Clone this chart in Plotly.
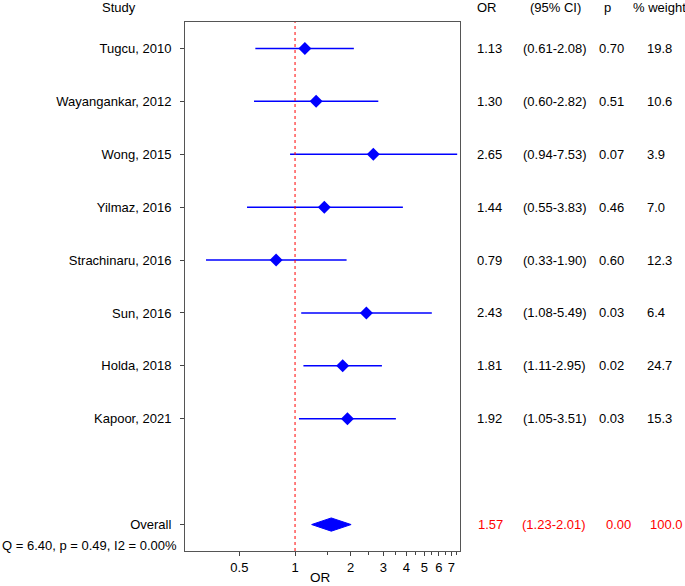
import plotly.graph_objects as go

studies = ["Tugcu, 2010", "Wayangankar, 2012", "Wong, 2015", "Yilmaz, 2016",
           "Strachinaru, 2016", "Sun, 2016", "Holda, 2018", "Kapoor, 2021"]
or_vals = [1.13, 1.30, 2.65, 1.44, 0.79, 2.43, 1.81, 1.92]
ci_low = [0.61, 0.60, 0.94, 0.55, 0.33, 1.08, 1.11, 1.05]
ci_high = [2.08, 2.82, 7.53, 3.83, 1.90, 5.49, 2.95, 3.51]
p_vals = ["0.70", "0.51", "0.07", "0.46", "0.60", "0.03", "0.02", "0.03"]
weights = ["19.8", "10.6", "3.9", "7.0", "12.3", "6.4", "24.7", "15.3"]

overall_or = 1.57
overall_low = 1.23
overall_high = 2.01
overall_p = "0.00"
overall_w = "100.0"
het_text = "Q = 6.40, p = 0.49, I2 = 0.00%"

tick_vals = [0.5, 1, 2, 3, 4, 5, 6, 7]
tick_text = ["0.5", "1", "2", "3", "4", "5", "6", "7"]
minor_vals = [1.5, 2.5, 3.5, 4.5, 5.5, 6.5, 7.5]

rows = list(range(1, len(studies) + 1))
overall_row = len(studies) + 2

FONT = "Liberation Sans, Arial, sans-serif"
FS = 13
BLUE = "#0000FF"
RED = "#FF0000"

fig = go.Figure()

# CI lines
for i, r in enumerate(rows):
    fig.add_trace(go.Scatter(x=[ci_low[i], ci_high[i]], y=[r, r], mode="lines",
                             line=dict(color=BLUE, width=1.5), showlegend=False,
                             hoverinfo="skip"))

# point estimates
fig.add_trace(go.Scatter(x=or_vals, y=rows, mode="markers",
                         marker=dict(symbol="diamond", size=10, color=BLUE),
                         showlegend=False))

# overall diamond
dh = 0.125
fig.add_trace(go.Scatter(x=[overall_low, overall_or, overall_high, overall_or, overall_low],
                         y=[overall_row, overall_row - dh, overall_row, overall_row + dh, overall_row],
                         mode="lines", fill="toself", fillcolor=BLUE,
                         line=dict(color=BLUE, width=1), showlegend=False))

# reference line at 1
fig.add_shape(type="line", x0=1, x1=1, y0=0, y1=1, xref="x", yref="paper",
              line=dict(color=RED, width=1, dash="dot"))

PL, PW = 185, 275  # plot-area left edge and width in page pixels

def px(xp):
    return (xp - PL) / float(PW)

ann = []
hdr_y = 1 + (22 - 8) / 529.0
ann.append(dict(x=px(100), y=hdr_y, text="Study", xanchor="left"))
ann.append(dict(x=px(475), y=hdr_y, text="OR", xanchor="left"))
ann.append(dict(x=px(528), y=hdr_y, text="(95% CI)", xanchor="left"))
ann.append(dict(x=px(607), y=hdr_y, text="p", xanchor="center"))
ann.append(dict(x=px(631), y=hdr_y, text="% weight", xanchor="left"))
for a in ann:
    a.update(xref="paper", yref="paper", yanchor="middle", showarrow=False,
             font=dict(family=FONT, size=FS, color="black"))

rowann = []
for i, r in enumerate(rows):
    for xp, t in [(475, f"{or_vals[i]:.2f}"),
                  (521, f"({ci_low[i]:.2f}-{ci_high[i]:.2f})"),
                  (597, p_vals[i]), (645, weights[i])]:
        rowann.append(dict(x=px(xp), y=r, text=t, xref="paper", yref="y",
                           xanchor="left", yanchor="middle", showarrow=False,
                           font=dict(family=FONT, size=FS, color="black")))
for xp, t in [(476, f"{overall_or:.2f}"),
              (520, f"({overall_low:.2f}-{overall_high:.2f})"),
              (604, overall_p), (648, overall_w)]:
    rowann.append(dict(x=px(xp), y=overall_row, text=t, xref="paper", yref="y",
                       xanchor="left", yanchor="middle", showarrow=False,
                       font=dict(family=FONT, size=FS, color=RED)))

rowann.append(dict(x=px(179), y=overall_row + 0.4, text=het_text, xref="paper", yref="y",
                   xanchor="right", yanchor="middle", showarrow=False,
                   font=dict(family=FONT, size=FS, color="black")))
rowann.append(dict(x=px(320), y=-(577 - 551) / 529.0, text="OR", xref="paper", yref="paper",
                   xanchor="center", yanchor="middle", showarrow=False,
                   font=dict(family=FONT, size=13.5, color="black")))

fig.update_layout(
    width=685, height=586,
    margin=dict(l=185, r=225, t=22, b=35),
    plot_bgcolor="white", paper_bgcolor="white",
    font=dict(family=FONT, size=FS, color="black"),
    annotations=ann + rowann,
    showlegend=False,
)

fig.update_xaxes(type="log", range=[-0.595, 0.892], tickvals=tick_vals, ticktext=tick_text,
                 ticks="outside", ticklen=4, tickcolor="#444", showgrid=False,
                 showline=True, linecolor="#555", linewidth=1, mirror=True,
                 zeroline=False, tickfont=dict(family=FONT, size=FS),
                 minor=dict(tickvals=minor_vals, ticks="outside", ticklen=3, tickcolor="#444"))
fig.update_yaxes(range=[overall_row + 0.5, 0.5], tickvals=rows + [overall_row],
                 ticktext=studies + ["Overall"], ticks="outside", ticklen=4, tickcolor="#444",
                 showgrid=False, showline=True, linecolor="#555", linewidth=1, mirror=True,
                 zeroline=False, tickfont=dict(family=FONT, size=FS), ticklabelstandoff=6)

fig.write_html("out.html", config={"displayModeBar": False},
               post_script="document.body.style.margin='0';document.body.style.overflow='hidden';")
